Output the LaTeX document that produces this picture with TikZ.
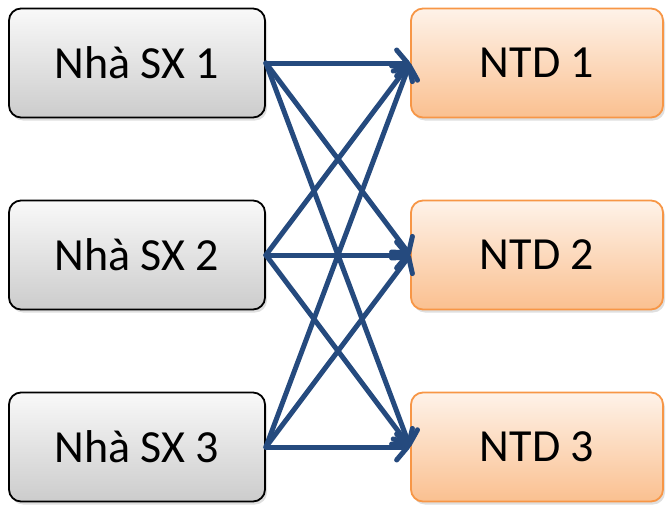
\documentclass[tikz,border=0pt]{standalone}
\usepackage{fontspec}
\setmainfont{Carlito}
\usetikzlibrary{arrows.meta,shadows}
\definecolor{arr}{HTML}{254A7E}
\definecolor{orb}{HTML}{F79646}
\tikzset{
  box/.style={rounded corners=12pt, minimum width=256pt, minimum height=109pt, line width=1.8pt, inner sep=0pt,
    font=\fontsize{46}{52}\selectfont, drop shadow={shadow xshift=2pt, shadow yshift=-3pt, opacity=0.25}},
  sx/.style={box, draw=black, top color=gray!5, bottom color=gray!40},
  ntd/.style={box, minimum width=252pt, draw=orb, top color=orb!12, bottom color=orb!60},
  link/.style={draw=arr, line width=5pt, line cap=round, -{Straight Barb[length=11pt, width=26pt, line width=5pt, round]}}
}
\begin{document}
\begin{tikzpicture}[x=1pt,y=-1pt]
\useasboundingbox (0,0) rectangle (666,506);
\node[sx] (a1) at (137,63) {Nhà SX 1};
\node[sx] (a2) at (137,255) {Nhà SX 2};
\node[sx] (a3) at (137,447) {Nhà SX 3};
\node[ntd] (b1) at (537,63) {NTD 1};
\node[ntd] (b2) at (537,255) {NTD 2};
\node[ntd] (b3) at (537,447) {NTD 3};
\foreach \i in {1,2,3}{
  \foreach \j in {1,2,3}{
    \draw[link] (a\i.east) -- (b\j.west);
  }
}
\end{tikzpicture}
\end{document}
